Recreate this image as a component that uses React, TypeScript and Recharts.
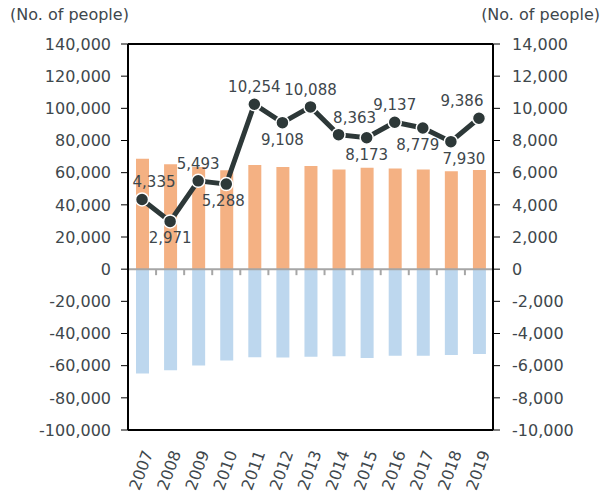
import React from "react";
import {
  Bar,
  ComposedChart,
  Line,
  ReferenceLine,
  XAxis,
  YAxis,
} from "recharts";

const years = ["2007", "2008", "2009", "2010", "2011", "2012", "2013", "2014", "2015", "2016", "2017", "2018", "2019"];
const inflow = [68600, 65300, 63500, 61500, 64700, 63600, 64200, 62000, 63000, 62600, 62000, 60900, 61700];
const outflow = [-64900, -62800, -59900, -56800, -54700, -54900, -54500, -54100, -55300, -53900, -53900, -53300, -52800];
const netGain = [4335, 2971, 5493, 5288, 10254, 9108, 10088, 8363, 8173, 9137, 8779, 7930, 9386];
// where each value label sits relative to its point
const labelSide = ["up", "down", "up", "down", "up", "down", "up", "up", "down", "up", "down", "down", "up"];
const labelShift = [12, 0, 0, -3, 0, 0, 0, 16, 0, 0, -5, 13, -17];

const leftTicks = [-100000, -80000, -60000, -40000, -20000, 0, 20000, 40000, 60000, 80000, 100000, 120000, 140000];
const rightTicks = [-10000, -8000, -6000, -4000, -2000, 0, 2000, 4000, 6000, 8000, 10000, 12000, 14000];

const data = years.map((year, i) => ({
  year,
  inflow: inflow[i],
  outflow: outflow[i],
  net: netGain[i],
}));

const FONT = "'DejaVu Sans', Verdana, sans-serif";
const TEXT = "#3e474c";
const fmt = (v: number) => v.toLocaleString("en-US");

const NetLabel = (props: any) => {
  const { x, y, value, index } = props;
  const up = labelSide[index] === "up";
  return (
    <text
      x={x + labelShift[index]}
      y={up ? y - 12 : y + 22}
      textAnchor="middle"
      fontSize={15}
      fontFamily={FONT}
      fill={TEXT}
    >
      {fmt(value)}
    </text>
  );
};

const YearTick = (props: any) => {
  const { x, y, payload } = props;
  const ax = x + 6;
  const ay = y + 13;
  return (
    <text
      x={ax}
      y={ay}
      transform={`rotate(-70 ${ax} ${ay})`}
      textAnchor="end"
      dominantBaseline="central"
      fontSize={16}
      fontFamily={FONT}
      fill={TEXT}
    >
      {payload.value}
    </text>
  );
};

// zero line with small ticks at the category boundaries
const ZeroLine = (props: any) => {
  const { x1, y1, x2 } = props;
  const step = (x2 - x1) / years.length;
  return (
    <g>
      <line x1={x1} y1={y1} x2={x2} y2={y1} stroke="#a6a6a6" strokeWidth={2} />
      {years.slice(1).map((_, i) => (
        <line
          key={i}
          x1={x1 + step * (i + 1)}
          y1={y1}
          x2={x1 + step * (i + 1)}
          y2={y1 + 6}
          stroke="#a6a6a6"
          strokeWidth={2}
        />
      ))}
    </g>
  );
};

export default function App() {
  return (
    <div style={{ position: "absolute", left: 0, top: 0, width: 604, height: 494, background: "#fff", fontFamily: FONT }}>
      <div style={{ position: "absolute", left: 10, top: 5, fontSize: 16, color: TEXT }}>(No. of people)</div>
      <div style={{ position: "absolute", right: 4, top: 5, fontSize: 16, color: TEXT }}>(No. of people)</div>
      <ComposedChart
        width={604}
        height={494}
        data={data}
        stackOffset="sign"
        margin={{ top: 44, right: 0, bottom: 0, left: 0 }}
      >
        <XAxis
          xAxisId="b"
          dataKey="year"
          height={64}
          interval={0}
          tickLine={false}
          axisLine={{ stroke: "#000", strokeWidth: 2 }}
          tick={<YearTick />}
        />
        <YAxis
          yAxisId="l"
          width={128}
          domain={[-100000, 140000]}
          ticks={leftTicks}
          interval={0}
          tickFormatter={fmt}
          tickSize={7}
          tickMargin={10}
          tickLine={{ stroke: "#000" }}
          axisLine={{ stroke: "#000", strokeWidth: 2 }}
          tick={{ fontSize: 16, fontFamily: FONT, fill: TEXT }}
        />
        <YAxis
          yAxisId="r"
          orientation="right"
          width={111}
          domain={[-10000, 14000]}
          ticks={rightTicks}
          interval={0}
          tickFormatter={fmt}
          tickSize={7}
          tickMargin={12}
          tickLine={{ stroke: "#000" }}
          axisLine={{ stroke: "#000", strokeWidth: 2 }}
          tick={{ fontSize: 16, fontFamily: FONT, fill: TEXT, textAnchor: "start" }}
        />
        <Bar xAxisId="b" yAxisId="l" dataKey="inflow" stackId="s" fill="#f4b183" barSize={13} isAnimationActive={false} />
        <Bar xAxisId="b" yAxisId="l" dataKey="outflow" stackId="s" fill="#bdd7ee" barSize={13} isAnimationActive={false} />
        <ReferenceLine xAxisId="b" yAxisId="l" y={0} shape={<ZeroLine />} />
        <ReferenceLine xAxisId="b" yAxisId="l" y={140000} stroke="#000" strokeWidth={2} ifOverflow="visible" />
        <Line
          xAxisId="b"
          yAxisId="r"
          dataKey="net"
          stroke="#2d3838"
          strokeWidth={5}
          dot={{ r: 6.5, fill: "#2d3838", stroke: "#fff", strokeWidth: 1.5 }}
          label={<NetLabel />}
          isAnimationActive={false}
        />
      </ComposedChart>
    </div>
  );
}
